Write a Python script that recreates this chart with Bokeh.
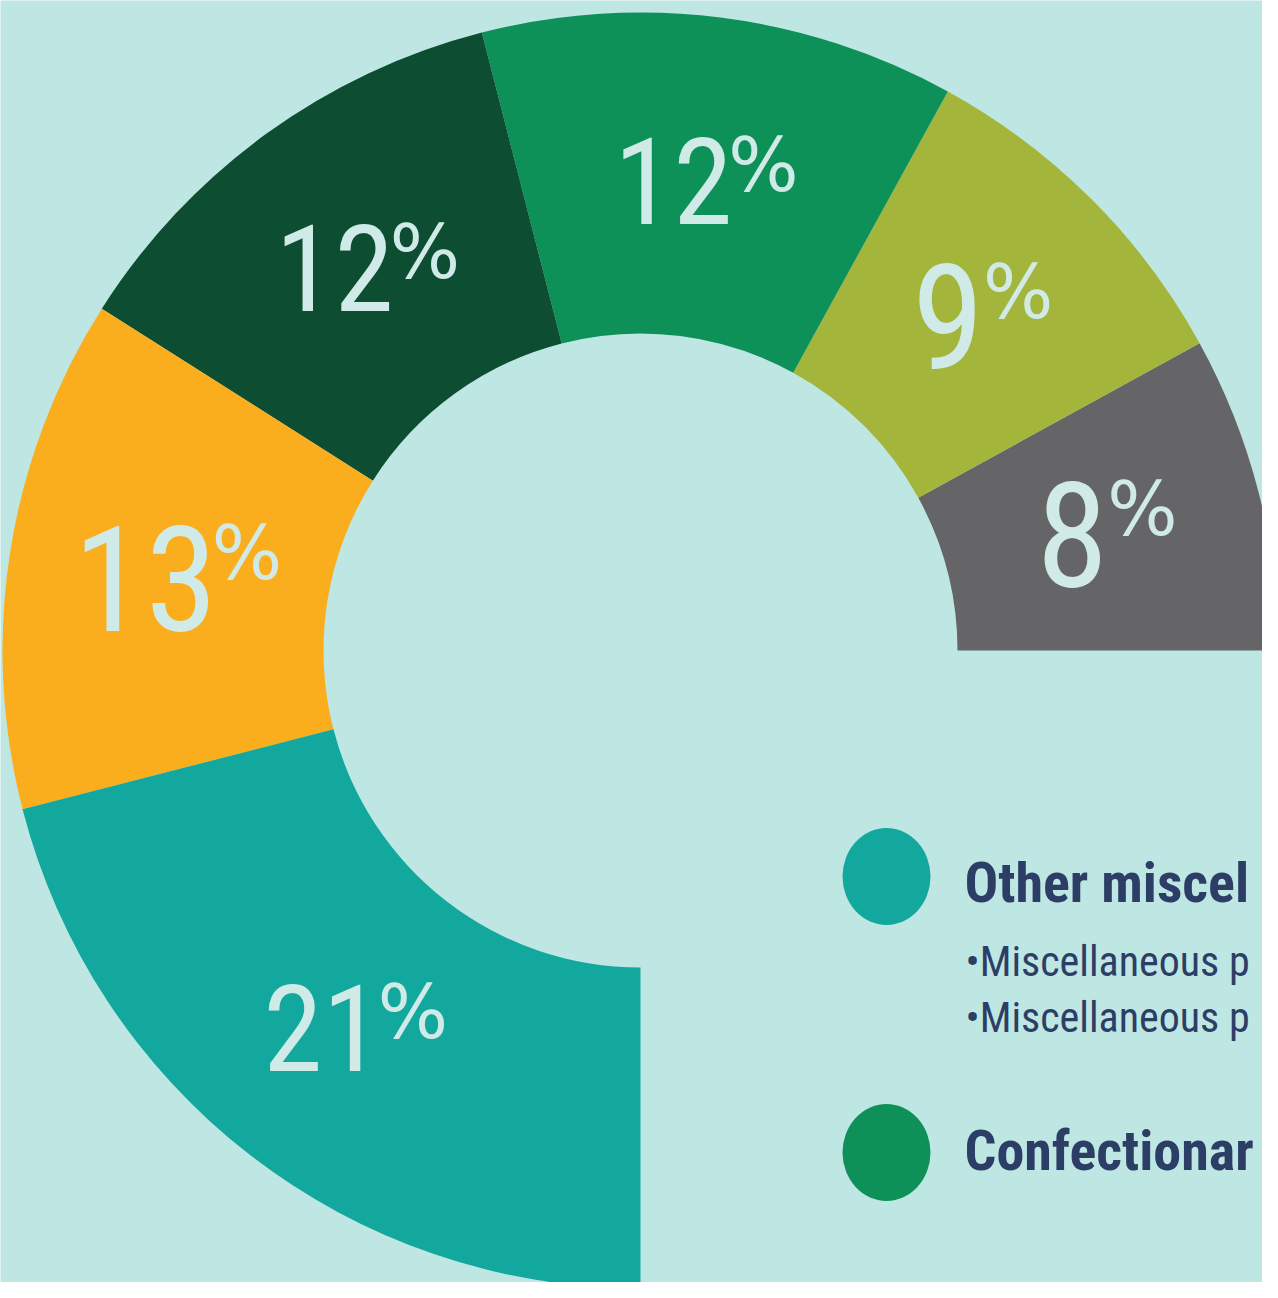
import math
from bokeh.plotting import figure
from bokeh.models import Range1d, ColumnDataSource
from bokeh.core.properties import value
from bokeh.embed import file_html
from bokeh.resources import INLINE

# ---- data ----
shares = [8, 9, 12, 12, 13, 21]
share_text = ["8", "9", "12", "12", "13", "21"]
colors = ["#656466", "#A4B53C", "#0E9159", "#0D4D31", "#FBAE1D", "#13A89E"]

legend_titles = ["Other miscel", "Confectionar"]
legend_colors = ["#13A89E", "#0E9159"]
legend_bullets = ["•Miscellaneous p", "•Miscellaneous p"]

# ---- styles ----
label_sizes = [146, 146, 120, 120, 146, 120]
BG = "#BEE6E2"
LABEL_COLOR = "#D0EAE8"
NAVY = "#2C3E66"
FONT = "Roboto Condensed"
K = 0.34  # baseline correction (fraction of font size)

W, H = 1262, 1282
p = figure(width=W, height=H, x_range=Range1d(0, W), y_range=Range1d(1298 - H, 1298),
           output_backend="svg", toolbar_location=None, min_border=0)
p.axis.visible = False
p.grid.visible = False
p.outline_line_color = None
p.background_fill_color = BG
p.border_fill_color = BG


def Y(py):
    return 1298 - py


cx, cy = 640, Y(650)
r_in, r_out = 317, 638

starts, ends = [], []
acc = 0.0
for s in shares:
    starts.append(acc / 100 * 2 * math.pi)
    acc += s
    ends.append(acc / 100 * 2 * math.pi)

p.annular_wedge(x=cx, y=cy, inner_radius=r_in, outer_radius=r_out,
                start_angle=starts, end_angle=ends, fill_color=colors,
                line_color=None)

# labels
r_lab = 475
nx, ny, px_, py_, nsz = [], [], [], [], []
pct_fs = 74
pct_w = 0.78 * pct_fs
pct_cap = 0.73 * pct_fs
for i, t in enumerate(share_text):
    mid = (starts[i] + ends[i]) / 2
    lx = cx + r_lab * math.cos(mid)
    ly = cy + r_lab * math.sin(mid)
    fs = label_sizes[i]
    cap = 0.711 * fs
    wn = 0.46 * fs * len(t)
    gap = 4
    left = lx - (wn + gap + pct_w) / 2
    base = ly - cap / 2
    nx.append(left)
    ny.append(base + K * fs)
    px_.append(left + wn + gap)
    py_.append(base + cap - pct_cap + K * pct_fs)
    nsz.append(f"{fs}px")

src_n = ColumnDataSource(dict(x=nx, y=ny, text=share_text, fs=nsz))
p.text(x="x", y="y", text="text", source=src_n, text_font=value(FONT),
       text_font_size="fs", text_align="left", text_baseline="alphabetic",
       text_color=LABEL_COLOR)
p.text(x=px_, y=py_, text=["%"] * len(px_), text_font=value("DejaVu Sans"),
       text_font_size=f"{pct_fs}px", text_align="left", text_baseline="alphabetic",
       text_color=LABEL_COLOR)

# legend
tfs, bfs = 56, 42
p.ellipse(x=[886, 886], y=[Y(876), Y(1152)], width=88, height=97,
          fill_color=legend_colors, line_color=None)
p.text(x=[964, 964], y=[Y(902) + K * tfs, Y(1170) + K * tfs], text=legend_titles,
       text_font=value(FONT), text_font_style="bold",
       text_font_size=f"{tfs}px", text_align="left", text_baseline="alphabetic",
       text_color=NAVY)
p.text(x=[965, 965], y=[Y(975) + K * bfs, Y(1031) + K * bfs], text=legend_bullets,
       text_font=value(FONT), text_font_size=f"{bfs}px", text_align="left",
       text_baseline="alphabetic", text_color=NAVY)

open("out.html", "w").write(file_html(p, INLINE))
